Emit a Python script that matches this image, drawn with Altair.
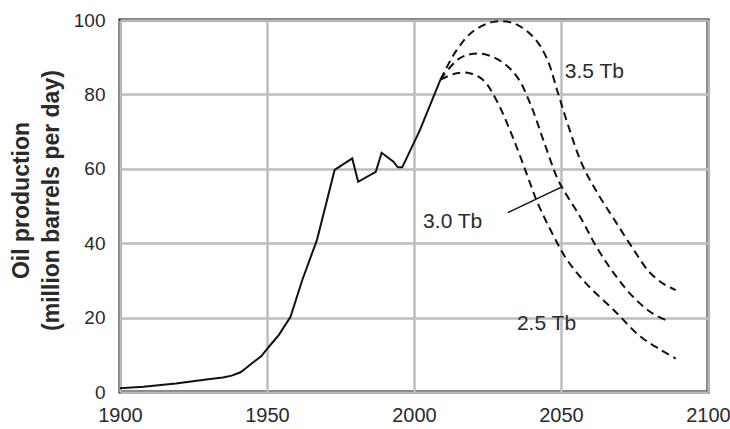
import altair as alt
import pandas as pd

# Historical production (solid line)
hist_years = [1900, 1908, 1919, 1930, 1935, 1938, 1941, 1943, 1945, 1948, 1951, 1954, 1958,
              1962, 1967, 1970, 1973, 1979, 1981, 1987, 1989, 1993, 1994.5, 1996, 2002, 2009]
hist_values = [1.0, 1.4, 2.3, 3.4, 3.9, 4.4, 5.3, 6.5, 7.8, 9.6, 12.5, 15.3, 20.2,
               30.1, 40.9, 50.3, 59.7, 62.8, 56.5, 59.2, 64.3, 61.9, 60.4, 60.4, 70.4, 84.0]

# Projections (dashed lines)
s35_years = [2009, 2014.5, 2020, 2027, 2034, 2040.5, 2045, 2049, 2052.5, 2057, 2062,
             2068, 2074.5, 2080, 2085, 2089]
s35_values = [84.0, 91.9, 96.9, 99.5, 99.1, 95.5, 90.0, 80.3, 71.5, 61.5, 54.0,
              46.5, 38.5, 32.3, 29.0, 27.4]

s30_years = [2009, 2015.5, 2022, 2029, 2035, 2039.5, 2044, 2048.5, 2050.5, 2056.5, 2062,
             2068, 2074.5, 2081, 2087]
s30_values = [84.0, 89.7, 91.0, 89.2, 84.8, 77.6, 67.7, 57.9, 54.8, 47.1, 39.1,
              31.9, 25.6, 21.2, 18.9]

s25_years = [2009, 2014.5, 2019, 2023.5, 2028, 2034, 2039.5, 2042, 2047.5, 2052, 2058.5,
             2068, 2077, 2084, 2089]
s25_values = [84.0, 85.7, 85.7, 83.9, 78.5, 67.7, 56.1, 50.9, 41.9, 35.6, 29.2,
              22.0, 14.9, 11.3, 9.0]

# Annotations
ann_labels = ["3.5 Tb", "3.0 Tb", "2.5 Tb"]
ann_x = [2051.3, 2003.1, 2035.0]
ann_y = [86.0, 45.8, 18.2]

leader_x = [2031.9, 2050.5]
leader_y = [48.2, 55.2]

x_ticks = [1900, 1950, 2000, 2050, 2100]
y_ticks = [0, 20, 40, 60, 80, 100]

hist_df = pd.DataFrame({"year": hist_years, "value": hist_values})
proj_df = pd.concat([
    pd.DataFrame({"year": s35_years, "value": s35_values, "scenario": "3.5 Tb"}),
    pd.DataFrame({"year": s30_years, "value": s30_values, "scenario": "3.0 Tb"}),
    pd.DataFrame({"year": s25_years, "value": s25_values, "scenario": "2.5 Tb"}),
])
ann_df = pd.DataFrame({"label": ann_labels, "year": ann_x, "value": ann_y})
leader_df = pd.DataFrame({"year": leader_x, "value": leader_y})

xscale = alt.Scale(domain=[1900, 2100], nice=False, zero=False)
yscale = alt.Scale(domain=[0, 100], nice=False)

xaxis = alt.Axis(values=x_ticks, format="d", title=None, labelFlush=False,
                 labelPadding=13, labelFontSize=20, labelFont="Liberation Sans",
                 labelColor="#2a2a2a", grid=True, gridColor="#bdbdbd", gridWidth=2.5,
                 domain=False, ticks=False)
yaxis = alt.Axis(values=y_ticks, title=["Oil production", "(million barrels per day)"],
                 titleFont="Liberation Sans", titleFontSize=23, titleFontWeight="bold",
                 titleColor="#2a2a2a", titleLineHeight=30, titleAngle=-90,
                 titleX=-99, titleY=180, titleAlign="center", titleBaseline="middle",
                 labelPadding=15, labelFontSize=19, labelFont="Liberation Sans",
                 labelColor="#2a2a2a", grid=True, gridColor="#bdbdbd", gridWidth=2.5,
                 domain=False, ticks=False)

hist = alt.Chart(hist_df).mark_line(color="#111", strokeWidth=2).encode(
    x=alt.X("year:Q", scale=xscale, axis=xaxis),
    y=alt.Y("value:Q", scale=yscale, axis=yaxis),
)

proj = alt.Chart(proj_df).mark_line(color="#111", strokeWidth=2, strokeDash=[8, 5],
                                    interpolate="catmull-rom").encode(
    x=alt.X("year:Q", scale=xscale),
    y=alt.Y("value:Q", scale=yscale),
    detail="scenario:N",
)

leader = alt.Chart(leader_df).mark_line(color="#111", strokeWidth=1.5).encode(
    x=alt.X("year:Q", scale=xscale),
    y=alt.Y("value:Q", scale=yscale),
)

labels = alt.Chart(ann_df).mark_text(align="left", baseline="middle", fontSize=21,
                                     font="Liberation Sans", color="#2a2a2a").encode(
    x=alt.X("year:Q", scale=xscale),
    y=alt.Y("value:Q", scale=yscale),
    text="label:N",
)

chart = alt.layer(hist, proj, leader, labels).properties(
    width=588, height=372,
    autosize=alt.AutoSizeParams(type="none"),
    padding={"left": 120, "top": 20, "right": 22, "bottom": 37},
    background="white",
).configure_view(stroke="#111", strokeWidth=3)

chart.save("out.html", embed_options={"renderer": "svg", "actions": False})
